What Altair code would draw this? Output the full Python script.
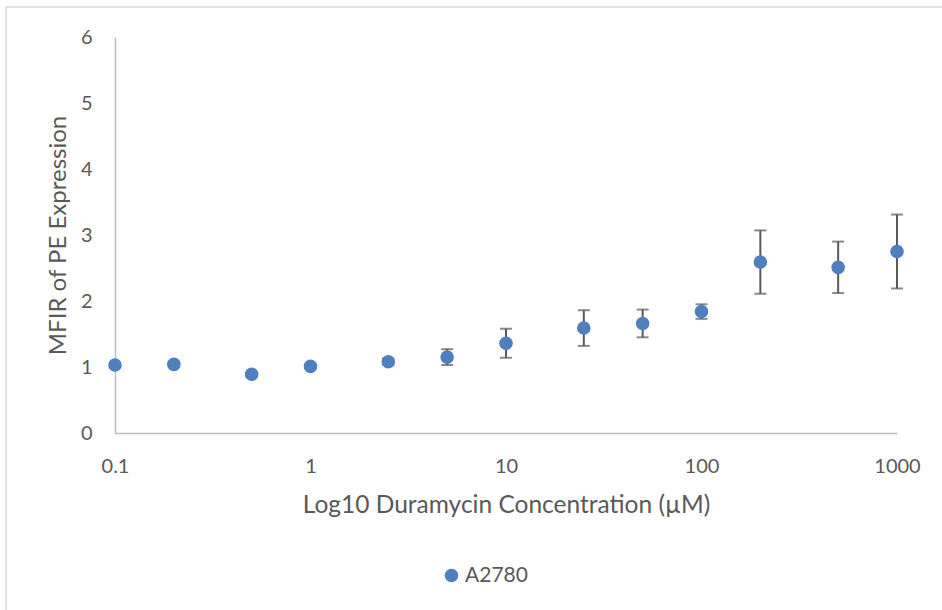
import altair as alt
import pandas as pd

conc = [0.1, 0.2, 0.5, 1, 2.5, 5, 10, 25, 50, 100, 200, 500, 1000]
mfir = [1.03, 1.04, 0.89, 1.01, 1.08, 1.15, 1.36, 1.59, 1.66, 1.84, 2.59, 2.51, 2.75]
err = [0.03, 0.04, 0.02, 0.03, 0.05, 0.12, 0.22, 0.27, 0.21, 0.11, 0.48, 0.39, 0.56]
series = ["A2780"] * len(conc)

x_ticks = [0.1, 1, 10, 100, 1000]
y_ticks = [0, 1, 2, 3, 4, 5, 6]

df = pd.DataFrame({"conc": conc, "mfir": mfir, "err": err, "series": series})
df["lo"] = df["mfir"] - df["err"]
df["hi"] = df["mfir"] + df["err"]

FONT = "Lato"
W, H = 782, 396

xscale = alt.Scale(type="log", domain=[0.1, 1000], nice=False)
yscale = alt.Scale(domain=[0, 6], nice=False, zero=True)

xaxis = alt.Axis(values=x_ticks, format="~g", title="Log10 Duramycin Concentration (µM)",
                 grid=False, ticks=False, domainColor="#bfbfbf", domainWidth=1.5,
                 labelFlush=False, labelFont=FONT, labelFontSize=20, labelColor="#595959",
                 labelPadding=23,
                 titleFont=FONT, titleFontSize=24.5, titleFontWeight="normal", titleColor="#595959",
                 titlePadding=17)
yaxis = alt.Axis(values=y_ticks, format="d", title="MFIR of PE Expression",
                 grid=False, ticks=False, domainColor="#bfbfbf", domainWidth=1.5,
                 labelFont=FONT, labelFontSize=20, labelColor="#595959", labelPadding=23,
                 titleFont=FONT, titleFontSize=24, titleFontWeight="normal", titleColor="#595959",
                 titlePadding=10)

base = alt.Chart(df)

frame = base.mark_rect(fill=None, stroke="#d9d9d9", strokeWidth=1.5).encode(
    x=alt.value(-109), x2=alt.value(860), y=alt.value(-30), y2=alt.value(620)
).transform_filter("datum.conc == 0.1")

bars = base.mark_rule(color="#595959", strokeWidth=2).encode(
    x=alt.X("conc:Q", scale=xscale, axis=xaxis),
    y=alt.Y("lo:Q", scale=yscale, axis=yaxis),
    y2="hi:Q",
)
cap_hi = base.mark_tick(color="#595959", orient="horizontal", thickness=2, size=12).encode(
    x=alt.X("conc:Q", scale=xscale), y=alt.Y("hi:Q", scale=yscale)
)
cap_lo = base.mark_tick(color="#595959", orient="horizontal", thickness=2, size=12).encode(
    x=alt.X("conc:Q", scale=xscale), y=alt.Y("lo:Q", scale=yscale)
)
points = base.mark_point(filled=True, opacity=1, size=185).encode(
    x=alt.X("conc:Q", scale=xscale),
    y=alt.Y("mfir:Q", scale=yscale),
    color=alt.Color("series:N", scale=alt.Scale(range=["#4e7fbe"]),
                    legend=alt.Legend(title=None, orient="none", legendX=326, legendY=528,
                                      labelFont=FONT, labelFontSize=21, labelColor="#595959",
                                      symbolType="circle", symbolSize=185, symbolStrokeWidth=0,
                                      labelOffset=3)),
)

chart = alt.layer(frame, bars, cap_hi, cap_lo, points).properties(
    width=W, height=H,
    padding={"left": 115, "top": 37, "right": 45, "bottom": 177},
    autosize=alt.AutoSizeParams(type="none"),
    background="white",
).configure_view(stroke=None)

chart.save("out.html", embed_options={"renderer": "svg", "actions": False})
